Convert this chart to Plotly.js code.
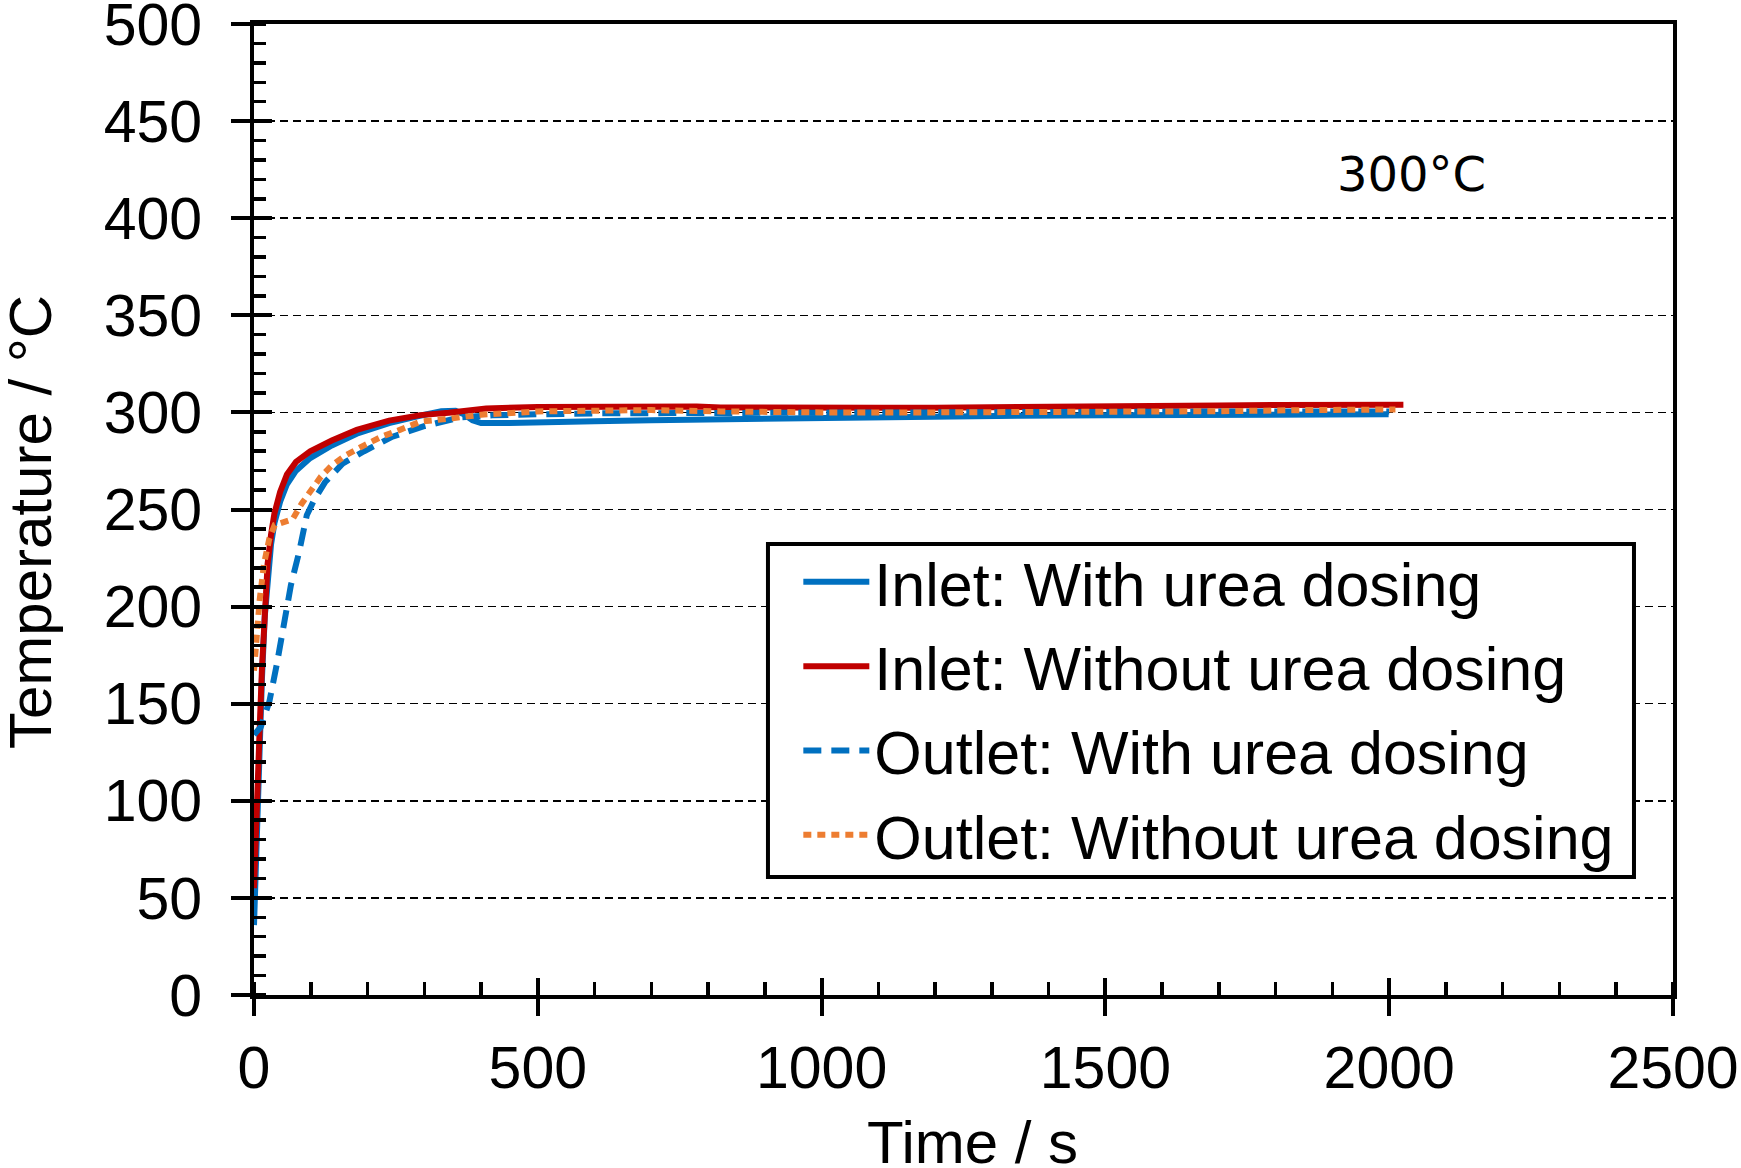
<!DOCTYPE html>
<html>
<head>
<meta charset="utf-8">
<script src="https://cdn.plot.ly/plotly-3.0.1.min.js"></script>
<style>html,body{margin:0;padding:0;background:#fff}#chart{width:1741px;height:1168px}</style>
</head>
<body>
<div id="chart"></div>
<script>
// Inlet: With urea dosing (blue solid)
const tInletWith = [0,1,2,3,5,7,10,14,19,24,30,36,46,58,74,99,137,181,238,288,330,355,370,385,400,450,500,600,700,822,900,1000,1100,1200,1350,1500,1700,1850,1999];
const yInletWith = [36,45,60,75,100,118,135,163,195,217,232,243,254,263,270,276.5,283,289,294.5,298,300.6,300.8,299,296,294.5,294.5,295,295.5,296,296.5,297,297.3,297.5,297.8,298.3,298.5,298.7,299,299];

// Inlet: Without urea dosing (red solid)
const tInletWithout = [0,2,5,10,14,19,24,30,36,46,58,74,99,137,181,238,293,343,409,500,600,700,780,822,900,1000,1100,1200,1300,1350,1450,1550,1600,1700,1800,1900,2000,2025];
const yInletWithout = [55,75,106,137,168,200,222,237,248,259,268,274.5,280,285.5,291,295.8,298.6,299.8,302,302.8,303,303,303,302.5,302.3,302.3,302.4,302.4,302.5,302.6,303,303.3,303.5,303.6,303.8,304,304,304];

// Outlet: With urea dosing (blue dashed)
const tOutletWith = [0,5,12,20,27,40,52,65,79,93,106,125,156,194,244,301,364,420,500,600,800,1000,1200,1400,1600,1800,2000];
const yOutletWith = [134,136,138,145,151,170,190.6,211,227.5,247,255,264,273.6,280,287.5,293,297.5,298.5,299,299.5,299.7,300,300.3,300.5,300.5,300.5,300.5];

// Outlet: Without urea dosing (orange dashed)
const tOutletWithout = [0,5,10,17.6,27,36.5,49,68,84,99,118,137,162,194,225,257,293,350,400,500,600,700,822,900,1000,1200,1350,1500,1700,1850,2011];
const yOutletWithout = [167,189,203.5,222,235,242,243,245,253,259,267,272.7,278,283,287.5,291,295.2,297,298.8,300.5,301,301.2,300.5,300,300,300,300,300.2,300.6,301.2,301.5];

const seriesNames = ['Inlet: With urea dosing','Inlet: Without urea dosing','Outlet: With urea dosing','Outlet: Without urea dosing'];
const xTickVals = [0,500,1000,1500,2000,2500];
const yTickVals = [0,50,100,150,200,250,300,350,400,450,500];
const xTitle = 'Time / s';
const yTitle = 'Temperature / °C';
const annotationText = '300°C';

const traces = [
  {x:tInletWith, y:yInletWith, name:seriesNames[0], legendgroup:'a', type:'scatter', mode:'lines', line:{color:'#0070C0', width:6}},
  {x:tInletWithout, y:yInletWithout, name:seriesNames[1], legendgroup:'b', type:'scatter', mode:'lines', line:{color:'#C00000', width:6}},
  {x:tOutletWith, y:yOutletWith, name:seriesNames[2], legendgroup:'c', type:'scatter', mode:'lines', line:{color:'#0070C0', width:6, dash:'18px,10px'}},
  {x:tOutletWithout, y:yOutletWithout, name:seriesNames[3], legendgroup:'d', type:'scatter', mode:'lines', line:{color:'#ED7D31', width:6, dash:'8px,6px'}},
  {x:[], y:[], xaxis:'x2', yaxis:'y2', showlegend:false, hoverinfo:'skip', type:'scatter', mode:'lines'}
];

const fam = '"Liberation Sans", Arial, sans-serif';
const tickFont = {family:fam, size:59, color:'#000'};
const titleFont = {family:fam, size:60, color:'#000'};

const layout = {
  width:1741, height:1168,
  margin:{l:254, r:68, t:24, b:173, pad:0},
  paper_bgcolor:'#fff', plot_bgcolor:'#fff',
  showlegend:true,
  xaxis:{
    range:[0,2500], tickvals:xTickVals, ticktext:xTickVals.map(String),
    ticks:'outside', ticklen:17, tickwidth:4, tickcolor:'#000',
    minor:{dtick:100, ticks:'inside', ticklen:13, tickwidth:3.5, tickcolor:'#000', showgrid:false},
    showline:true, linewidth:4, linecolor:'#000', mirror:true,
    showgrid:false, zeroline:false,
    tickfont:tickFont, ticklabelstandoff:1, ticklabeloverflow:'allow',
    automargin:false
  },
  yaxis:{
    range:[0,500], tickvals:yTickVals, ticktext:yTickVals.map(String),
    ticks:'outside', ticklen:19, tickwidth:4, tickcolor:'#000',
    minor:{dtick:10, ticks:'inside', ticklen:12, tickwidth:3.5, tickcolor:'#000', showgrid:false},
    showline:true, linewidth:4, linecolor:'#000', mirror:true,
    showgrid:true, gridcolor:'#000', gridwidth:1.5, griddash:'8px,5px',
    zeroline:false,
    tickfont:tickFont, ticklabelstandoff:17, ticklabeloverflow:'allow',
    automargin:false
  },
  xaxis2:{overlaying:'x', anchor:'y2', side:'bottom', range:[0,2500], tickvals:xTickVals,
    ticks:'inside', ticklen:17, tickwidth:4, tickcolor:'#000', showticklabels:false,
    showgrid:false, zeroline:false, showline:false},
  yaxis2:{overlaying:'y', anchor:'x2', side:'left', range:[0,500], tickvals:yTickVals,
    ticks:'inside', ticklen:18, tickwidth:4, tickcolor:'#000', showticklabels:false,
    showgrid:false, zeroline:false, showline:false},
  legend:{
    x:0.3836, y:0.473, xanchor:'left', yanchor:'top',
    bgcolor:'rgba(0,0,0,0)', borderwidth:0,
    font:{family:fam, size:61, color:'#000'},
    itemwidth:66, tracegroupgap:2, traceorder:'grouped'
  },
  shapes:[{
    type:'rect', xref:'paper', yref:'paper', x0:0.3622, x1:0.9725, y0:0.1215, y1:0.4645,
    fillcolor:'#fff', line:{color:'#000', width:4}, layer:'above'
  }],
  annotations:[
    {x:2039, y:423, xref:'x', yref:'y', text:annotationText, showarrow:false,
     font:{family:'"DejaVu Sans", sans-serif', size:48, color:'#000'},
     xanchor:'center', yanchor:'middle'},
    {x:0.5064, y:-0.1514, xref:'paper', yref:'paper', text:xTitle, showarrow:false,
     font:titleFont, xanchor:'center', yanchor:'middle'},
    {x:-0.1579, y:0.487, xref:'paper', yref:'paper', text:yTitle, showarrow:false,
     font:titleFont, textangle:-90, xanchor:'center', yanchor:'middle'}
  ]
};

Plotly.newPlot('chart', traces, layout, {staticPlot:true, displayModeBar:false});
</script>
</body>
</html>
